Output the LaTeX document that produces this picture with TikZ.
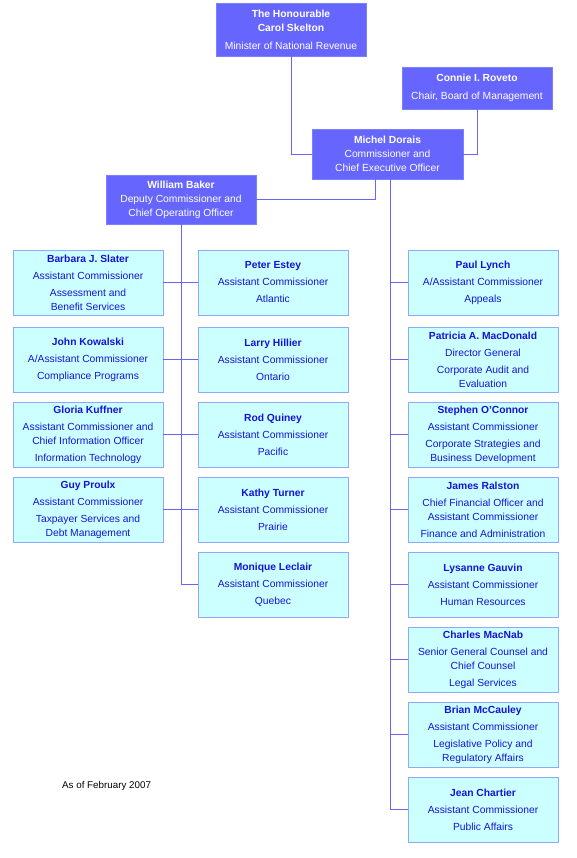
\documentclass[tikz,border=0pt]{standalone}
\usepackage{fontspec}
\setmainfont{Liberation Sans}
\definecolor{execfill}{RGB}{102,102,255}
\definecolor{execborder}{RGB}{120,130,255}
\definecolor{unitfill}{RGB}{204,255,255}
\definecolor{unitborder}{RGB}{140,170,255}
\definecolor{unittext}{RGB}{20,20,215}
\definecolor{linecol}{RGB}{102,102,255}
\begin{document}
\begin{tikzpicture}[x=1pt,y=-1pt,
  exec/.style={draw=execborder, fill=execfill, text=white, minimum width=150pt, align=center, inner sep=0pt, font=\fontsize{10.3}{14}\selectfont},
  unit/.style={draw=unitborder, line width=0.8pt, fill=unitfill, text=unittext, minimum width=150pt, minimum height=65pt, align=center, inner sep=0pt, font=\fontsize{10.3}{14}\selectfont},
  link/.style={draw=linecol, line width=0.9pt},
  note/.style={font=\fontsize{9.8}{12}\selectfont, text=black, inner sep=0pt}]
\useasboundingbox (0,0) rectangle (577,858);
% executive boxes
\node[exec, minimum height=53pt] (minister) at (291,29.5) {\textbf{The Honourable}\\\textbf{Carol Skelton}\\[4pt]Minister of National Revenue};
\node[exec, minimum height=42pt] (connie) at (477,88) {\textbf{Connie I. Roveto}\\[4pt]Chair, Board of Management};
\node[exec, minimum height=50pt, minimum width=151pt] (michel) at (387.5,154) {\textbf{Michel Dorais}\\Commissioner and\\Chief Executive Officer};
\node[exec, minimum height=49pt] (william) at (181,199.5) {\textbf{William Baker}\\Deputy Commissioner and\\Chief Operating Officer};
% left column
\node[unit] (barbara) at (88,282.5) {\textbf{Barbara J. Slater}\\[3pt]Assistant Commissioner\\[3pt]Assessment and\\Benefit Services};
\node[unit] (john) at (88,359.5) {\textbf{John Kowalski}\\[3pt]A/Assistant Commissioner\\[3pt]Compliance Programs};
\node[unit] (gloria) at (88,434.5) {\textbf{Gloria Kuffner}\\[3pt]Assistant Commissioner and\\Chief Information Officer\\[3pt]Information Technology};
\node[unit] (guy) at (88,509.5) {\textbf{Guy Proulx}\\[3pt]Assistant Commissioner\\[3pt]Taxpayer Services and\\Debt Management};
% middle column
\node[unit] (peter) at (273,282.5) {\textbf{Peter Estey}\\[3pt]Assistant Commissioner\\[3pt]Atlantic};
\node[unit] (larry) at (273,359.5) {\textbf{Larry Hillier}\\[3pt]Assistant Commissioner\\[3pt]Ontario};
\node[unit] (rod) at (273,434.5) {\textbf{Rod Quiney}\\[3pt]Assistant Commissioner\\[3pt]Pacific};
\node[unit] (kathy) at (273,509.5) {\textbf{Kathy Turner}\\[3pt]Assistant Commissioner\\[3pt]Prairie};
\node[unit] (monique) at (273,584.5) {\textbf{Monique Leclair}\\[3pt]Assistant Commissioner\\[3pt]Quebec};
% right column
\node[unit] (paul) at (483,282.5) {\textbf{Paul Lynch}\\[3pt]A/Assistant Commissioner\\[3pt]Appeals};
\node[unit] (patricia) at (483,359.5) {\textbf{Patricia A. MacDonald}\\[3pt]Director General\\[3pt]Corporate Audit and\\Evaluation};
\node[unit] (stephen) at (483,434.5) {\textbf{Stephen O'Connor}\\[3pt]Assistant Commissioner\\[3pt]Corporate Strategies and\\Business Development};
\node[unit] (james) at (483,509.5) {\textbf{James Ralston}\\[3pt]Chief Financial Officer and\\Assistant Commissioner\\[3pt]Finance and Administration};
\node[unit] (lysanne) at (483,584.5) {\textbf{Lysanne Gauvin}\\[3pt]Assistant Commissioner\\[3pt]Human Resources};
\node[unit] (charles) at (483,659.5) {\textbf{Charles MacNab}\\[3pt]Senior General Counsel and\\Chief Counsel\\[3pt]Legal Services};
\node[unit] (brian) at (483,734.5) {\textbf{Brian McCauley}\\[3pt]Assistant Commissioner\\[3pt]Legislative Policy and\\Regulatory Affairs};
\node[unit] (jean) at (483,809.5) {\textbf{Jean Chartier}\\[3pt]Assistant Commissioner\\[3pt]Public Affairs};
% note
\node[note, anchor=west] (asof) at (62,786) {As of February 2007};
% connectors
\draw[link] (minister.south) |- (michel.west);
\draw[link] (connie.south) |- (michel.east);
\draw[link] ([xshift=-12.5pt]michel.south) |- (william.east);
\coordinate (rt) at ([xshift=2.5pt]michel.south);
\draw[link] (rt) |- (jean.west);
\foreach \n in {paul,patricia,stephen,james,lysanne,charles,brian}
  \draw[link] (rt |- \n.west) -- (\n.west);
\draw[link] (william.south) |- (monique.west);
\draw[link] (barbara.east) -- (peter.west);
\draw[link] (john.east) -- (larry.west);
\draw[link] (gloria.east) -- (rod.west);
\draw[link] (guy.east) -- (kathy.west);
\end{tikzpicture}
\end{document}
